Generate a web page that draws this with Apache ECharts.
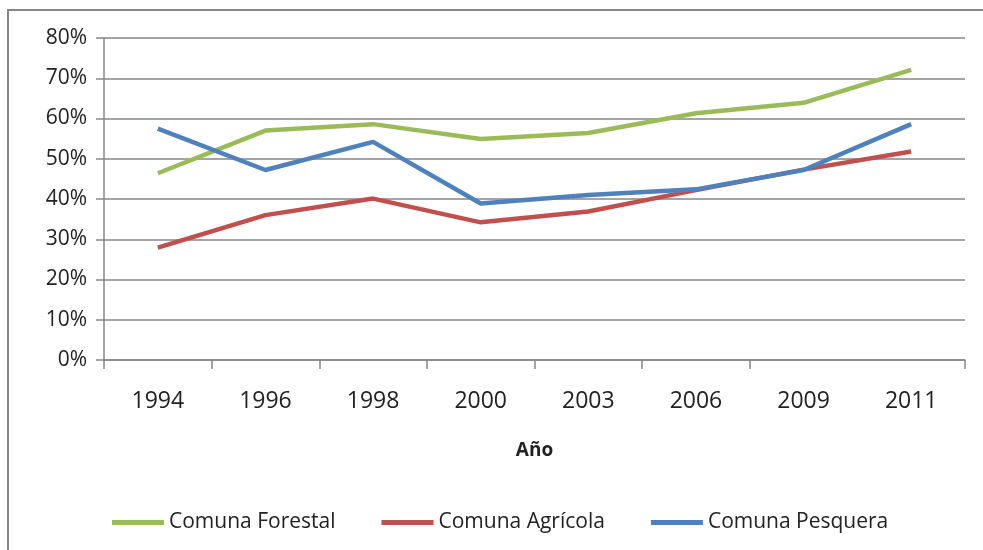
<!DOCTYPE html>
<html>
<head>
<meta charset="utf-8">
<script src="https://cdn.jsdelivr.net/npm/echarts@6/dist/echarts.min.js"></script>
<style>
  html, body { margin: 0; padding: 0; background: #fff; }
  #chart { width: 983px; height: 550px; }
</style>
</head>
<body>
<div id="chart"></div>
<script>
// values (percent)
const years = ['1994', '1996', '1998', '2000', '2003', '2006', '2009', '2011'];
const forestal = [46.4, 57.0, 58.6, 54.9, 56.4, 61.3, 63.9, 72.1];
const agricola = [27.9, 36.0, 40.1, 34.2, 36.9, 42.2, 47.3, 51.8];
const pesquera = [57.5, 47.2, 54.2, 38.9, 41.0, 42.4, 47.2, 58.6];
const yTicks = [0, 10, 20, 30, 40, 50, 60, 70, 80];

const font = "'Open Sans', sans-serif";
const axisGray = '#868686';
const ink = '#222';

const chart = echarts.init(document.getElementById('chart'));

const line = (name, data, color) => ({
  name,
  type: 'line',
  data,
  color,
  symbol: 'none',
  lineStyle: {width: 4.5, color},
  emphasis: {disabled: true},
});

chart.setOption({
  animation: false,
  grid: {left: 104, right: 18, top: 38, bottom: 190},
  graphic: [{
    type: 'rect',
    shape: {x: 8, y: 10, width: 1000, height: 600},
    style: {fill: 'none', stroke: axisGray, lineWidth: 2},
    silent: true,
  }],
  legend: {
    left: 107,
    top: 507,
    icon: 'rect',
    itemWidth: 52,
    itemHeight: 5,
    itemGap: 46,
    data: ['Comuna Forestal', 'Comuna Agrícola', 'Comuna Pesquera'],
    textStyle: {color: ink, fontSize: 21, fontFamily: font},
  },
  xAxis: {
    type: 'category',
    data: years,
    boundaryGap: true,
    name: 'Año',
    nameLocation: 'middle',
    nameGap: 81,
    nameTextStyle: {color: ink, fontSize: 19, fontWeight: 'bold', fontFamily: font},
    axisLine: {lineStyle: {color: axisGray, width: 1.5}},
    axisTick: {show: true, length: 9, lineStyle: {color: axisGray, width: 1.5},
      interval: (i) => i !== 7},
    axisLabel: {color: ink, fontSize: 23, fontFamily: font, margin: 30},
  },
  yAxis: {
    type: 'value',
    min: yTicks[0],
    max: yTicks[yTicks.length - 1],
    interval: 10,
    axisLine: {show: true, lineStyle: {color: axisGray, width: 1.5}},
    axisTick: {show: true, length: 8, lineStyle: {color: axisGray, width: 1.5}},
    splitLine: {lineStyle: {color: axisGray, width: 1.5}},
    axisLabel: {color: ink, fontSize: 21, fontFamily: font, margin: 17,
      formatter: '{value}%'},
  },
  series: [
    line('Comuna Forestal', forestal, '#9BBB59'),
    line('Comuna Agrícola', agricola, '#C0504D'),
    line('Comuna Pesquera', pesquera, '#4F81BD'),
  ],
});
</script>
</body>
</html>
